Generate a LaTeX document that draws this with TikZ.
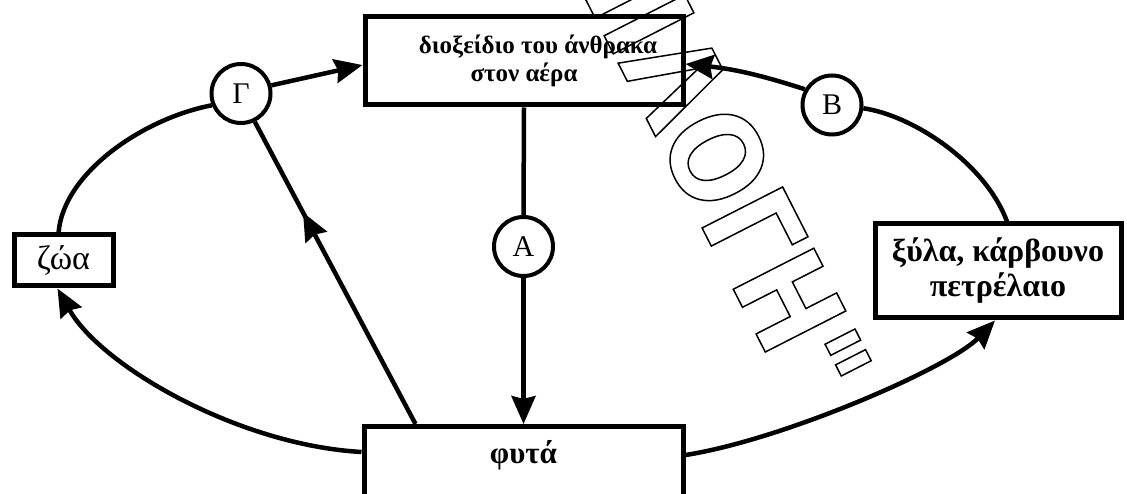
\documentclass[tikz,border=0pt]{standalone}
\usepackage{fontspec}
\setmainfont{Liberation Serif}
\newfontfamily\wmfont[FakeStretch=0.87]{DejaVu Sans Bold}
\usetikzlibrary{arrows.meta,decorations.markings}
\newcommand{\outlinetext}[1]{\special{pdf:literal direct 1 Tr 1.5 w}#1\special{pdf:literal direct 0 Tr}}
\begin{document}
\begin{tikzpicture}[x=1pt,y=-1pt,
  box/.style={draw, line width=5pt, inner sep=0pt, align=center, font=\bfseries\fontsize{32}{35}\selectfont},
  circ/.style={draw, circle, line width=4pt, minimum size=59pt, inner sep=0pt, font=\fontsize{30}{30}\selectfont},
  conn/.style={line width=4.5pt},
  arr/.style={-{Stealth[length=28pt,width=24pt,inset=3pt]}},
  midarr/.style={postaction={decorate}, decoration={markings, mark=at position #1 with {\arrow{Stealth[length=28pt,width=24pt,inset=3pt]}}}},
  wm/.style={inner sep=0pt, rotate=-63, font=\wmfont\fontsize{124}{124}\selectfont},
]
\useasboundingbox (0,0) rectangle (1127,494);

% boxes
\node[box, minimum width=318pt, minimum height=88pt, font=\bfseries\fontsize{25}{28}\selectfont] (top) at (524,61) {\hspace*{28pt}διοξείδιο του άνθρακα\\στον αέρα};
\node[box, minimum width=99pt, minimum height=51pt, font=\fontsize{34}{36}\selectfont] (zwa) at (63.5,260.5) {ζώα};
\node[box, minimum width=246pt, minimum height=94pt] (xyla) at (998,271) {ξύλα, κάρβουνο\\πετρέλαιο};
\node[box, anchor=north, minimum width=319pt, text height=24pt, text depth=70pt, inner ysep=13pt, font=\bfseries\fontsize{31}{35}\selectfont] (futa) at (523.5,424) {φυτά};

% circles
\node[circ] (G) at (241,93.5) {Γ};
\node[circ] (B) at (832,105) {Β};
\node[circ] (A) at (523.5,246.5) {Α};

% connectors
\draw[conn] (top.south) -- (A.north);
\draw[conn,arr] (A.south) -- (futa.north);
\draw[conn,arr] (G.15) -- ([yshift=-4pt]top.west);
\draw[conn,arr] (B.150) to[bend right=6] ([yshift=-3pt]top.east);
\draw[conn] (zwa.100) .. controls +(5,-60) and +(-68,13) .. (G.202);
\draw[conn,arr] ([yshift=-28pt]futa.north west) .. controls +(-124,-7) and +(43,77) .. ([xshift=-6pt]zwa.south);
\draw[conn,midarr=0.7] ([xshift=54pt]futa.north west) -- (G.-64);
\draw[conn,arr] ([yshift=-31pt]futa.north east) .. controls +(97,-15) and +(-45,47) .. ([xshift=-3pt]xyla.south);
\draw[conn] ([xshift=9pt]xyla.north) .. controls +(-22,-59) and +(49,7) .. (B.-6);

% watermark
\begin{scope}
\clip (0,0) rectangle (1127,494);
\node[wm, anchor=base east] (wm1) at (697.5,219) {\outlinetext{"ΕΠΙΛΟ}};
\node[wm, anchor=base west] (wm2) at (697.5,219) {\outlinetext{ΓΗ"}};
\end{scope}
\end{tikzpicture}
\end{document}
